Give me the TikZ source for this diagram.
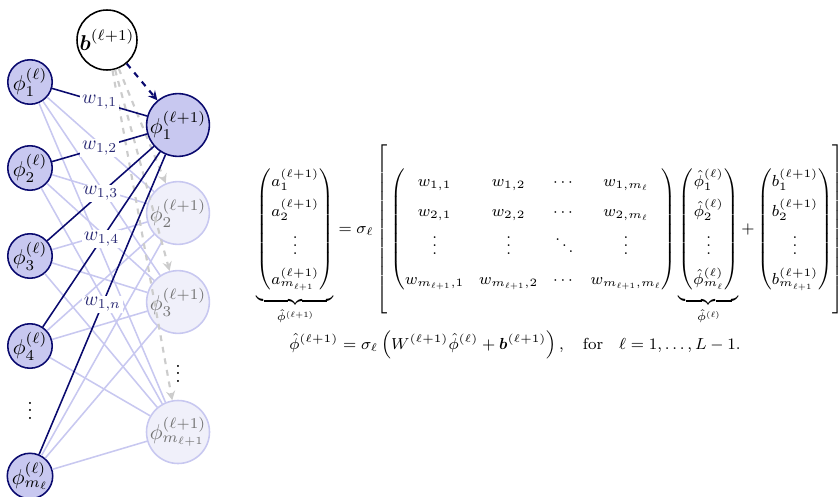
\documentclass[tikz,border=0pt]{standalone}
\usepackage{fix-cm}
\usepackage{amsmath}
\definecolor{navyblue}{RGB}{10,10,110}
\definecolor{lavender}{RGB}{200,200,240}
\definecolor{palelav}{RGB}{240,240,250}
\makeatletter
\newcommand{\outerL}{\mathopen{\bBigg@{9.2}[}}
\newcommand{\outerR}{\mathclose{\bBigg@{9.2}]}}
\makeatother
\begin{document}
\begin{tikzpicture}[x=0.018cm, y=-0.018cm, thick, >=stealth,
    neuron/.style={circle, draw=navyblue, fill=lavender, inner sep=0pt, minimum size=0.8cm, font=\fontsize{11}{13}\selectfont},
    faded/.style={circle, draw=lavender, fill=palelav, text=black!55, inner sep=0pt, minimum size=1.06cm, font=\fontsize{11}{13}\selectfont},
    biasnode/.style={circle, draw=black, fill=white, inner sep=0pt, minimum size=1.08cm, font=\fontsize{11}{13}\selectfont},
    wlabel/.style={midway, fill=white, inner sep=1pt, text=navyblue!75!gray}]
    \useasboundingbox (0,0) rectangle (840,496);
    % input layer
    \node[neuron] (p1) at (30,82) {$\phi_1^{(\ell)}$};
    \node[neuron] (p2) at (30,168) {$\phi_2^{(\ell)}$};
    \node[neuron] (p3) at (30,256) {$\phi_3^{(\ell)}$};
    \node[neuron] (p4) at (30,346) {$\phi_4^{(\ell)}$};
    \node (pdots) at (30,405) {$\vdots$};
    \node[neuron] (pm) at (30,476) {$\phi_{m_\ell}^{(\ell)}$};
    % bias
    \node[biasnode] (b) at (107,40) {$\boldsymbol{b}^{(\ell+1)}$};
    % output layer
    \node[neuron, minimum size=1.08cm] (q1) at (178,125) {$\phi_1^{(\ell+1)}$};
    \node[faded] (q2) at (178,213) {$\phi_2^{(\ell+1)}$};
    \node[faded] (q3) at (178,302) {$\phi_3^{(\ell+1)}$};
    \node (qdots) at (178,368) {$\vdots$};
    \node[faded] (qm) at (178,432) {$\phi_{m_{\ell+1}}^{(\ell+1)}$};
    % faint connections
    \foreach \i in {p1,p2,p3,p4,pm}
        \foreach \j in {q2,q3,qm}
            \draw[lavender] (\i) -- (\j);
    \foreach \j in {q2,q3,qm}
        \draw[->,dashed,gray!40,line width=1.1pt] (b) -- (\j);
    \draw[->,dashed,navyblue,line width=1.1pt] (b) -- (q1);
    % weights into the first neuron
    \draw[navyblue] (p1) -- (q1) node[wlabel] {$w_{1,1}$};
    \draw[navyblue] (p2) -- (q1) node[wlabel] {$w_{1,2}$};
    \draw[navyblue] (p3) -- (q1) node[wlabel] {$w_{1,3}$};
    \draw[navyblue] (p4) -- (q1) node[wlabel] {$w_{1,4}$};
    \draw[navyblue] (pm) -- (q1) node[wlabel] {$w_{1,n}$};
    % equations
    \node[anchor=west, inner sep=0pt, font=\fontsize{8.2}{10}\selectfont] (eqA) at (256,233) {\renewcommand{\arraystretch}{1.55}\setlength{\arraycolsep}{3.8pt}$\displaystyle
        \underbrace{\begin{pmatrix} a_1^{(\ell+1)}\\ a_2^{(\ell+1)}\\ \vdots\\ a_{m_{\ell+1}}^{(\ell+1)} \end{pmatrix}}_{\hat{\phi}^{(\ell+1)}}
        = \sigma_\ell \, \outerL \,
        \begin{pmatrix}
            w_{1,1} & w_{1,2} & \cdots & w_{1,m_\ell}\\
            w_{2,1} & w_{2,2} & \cdots & w_{2,m_\ell}\\
            \vdots & \vdots & \ddots & \vdots\\
            w_{m_{\ell+1},1} & w_{m_{\ell+1},2} & \cdots & w_{m_{\ell+1},m_\ell}
        \end{pmatrix}
        \underbrace{\begin{pmatrix} \hat{\phi}_1^{(\ell)}\\ \hat{\phi}_2^{(\ell)}\\ \vdots\\ \hat{\phi}_{m_\ell}^{(\ell)} \end{pmatrix}}_{\hat{\phi}^{(\ell)}}
        + \begin{pmatrix} b_1^{(\ell+1)}\\ b_2^{(\ell+1)}\\ \vdots\\ b_{m_{\ell+1}}^{(\ell+1)} \end{pmatrix}
        \outerR$};
    \node[anchor=west, font=\fontsize{8.2}{10}\selectfont] (eqB) at (282,345) {$\displaystyle
        \hat{\phi}^{(\ell+1)} = \sigma_\ell \left(W^{(\ell+1)}\hat{\phi}^{(\ell)} + \boldsymbol{b}^{(\ell+1)}\right),
        \quad \text{for} \quad \ell = 1,\dots,L-1.$};
\end{tikzpicture}
\end{document}
